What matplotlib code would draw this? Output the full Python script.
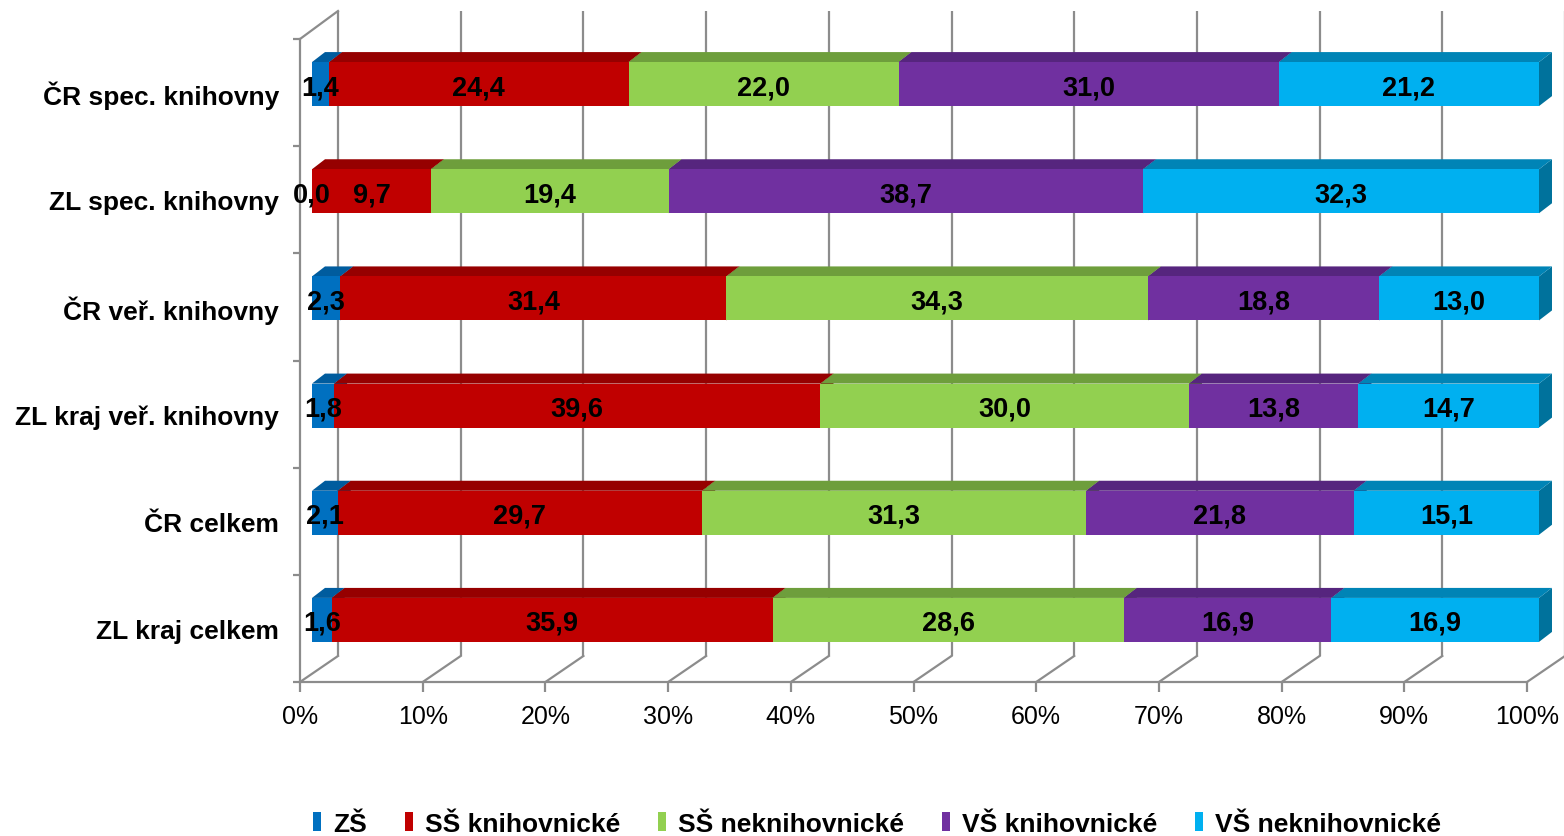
import matplotlib
matplotlib.use("Agg")
import matplotlib.pyplot as plt
from matplotlib.patches import Polygon, Rectangle
import numpy as np

plt.rcParams['font.family'] = ['Liberation Sans', 'DejaVu Sans']

# ---- data (bottom to top) ----
categories = ["ZL kraj celkem", "ČR celkem", "ZL kraj veř. knihovny",
              "ČR veř. knihovny", "ZL spec. knihovny", "ČR spec. knihovny"]
series_names = ["ZŠ", "SŠ knihovnické", "SŠ neknihovnické",
                "VŠ knihovnické", "VŠ neknihovnické"]
zs = [1.6, 2.1, 1.8, 2.3, 0.0, 1.4]
ss_kn = [35.9, 29.7, 39.6, 31.4, 9.7, 24.4]
ss_nekn = [28.6, 31.3, 30.0, 34.3, 19.4, 22.0]
vs_kn = [16.9, 21.8, 13.8, 18.8, 38.7, 31.0]
vs_nekn = [16.9, 15.1, 14.7, 13.0, 32.3, 21.2]
xtick_labels = ["0%", "10%", "20%", "30%", "40%", "50%", "60%", "70%", "80%", "90%", "100%"]

series = [zs, ss_kn, ss_nekn, vs_kn, vs_nekn]
front_cols = ["#0070C0", "#C00000", "#92D050", "#7030A0", "#00B0F0"]
top_cols = ["#005C9E", "#960000", "#6E9E3C", "#56257E", "#0084B6"]
side_cols = ["#004E86", "#7A0000", "#5A8430", "#45206A", "#00729C"]

W, H = 1564, 837
fig = plt.figure(figsize=(W / 100, H / 100), dpi=100)
ax = fig.add_axes([300 / W, (H - 683) / H, 1227 / W, 643 / H])
ax.set_xlim(0, 100)
ax.set_ylim(-0.5, 5.5)
for s in ax.spines.values():
    s.set_visible(False)

dxp = 100 / 1227.0   # data units per pixel (x)
dyp = 6 / 643.0      # data units per pixel (y)
grid_col = "#8C8C8C"
lw = 1.6

# depth of the wall/floor
DX = 38 * dxp
ybot, ytop = -0.5, 5.5
for p in range(0, 101, 10):
    xb = p + DX
    ax.plot([xb, xb], [ybot + 26 * dyp, ytop + 28 * dyp], color=grid_col, lw=lw,
            clip_on=False, zorder=1, solid_capstyle='butt')
    ax.plot([p, xb], [ybot, ybot + 26 * dyp], color=grid_col, lw=lw,
            clip_on=False, zorder=1)
# front floor edge and left wall front edge
ax.plot([0, 100], [ybot, ybot], color=grid_col, lw=lw, clip_on=False, zorder=1)
ax.plot([0, 0], [ybot, ytop], color=grid_col, lw=lw, clip_on=False, zorder=1)
ax.plot([0, DX], [ytop, ytop + 28 * dyp], color=grid_col, lw=lw, clip_on=False, zorder=1)

# bars
ox, oy = 12 * dxp, 8.5 * dyp
tx, ty = 13 * dxp, 10 * dyp
bh = 44 * dyp
y = np.arange(len(categories))
for i, c in enumerate(y):
    total = sum(s[i] for s in series)
    left = 0.0
    for k, s in enumerate(series):
        w = s[i] / total * 100
        x0, x1 = left + ox, left + w + ox
        yb, yt = c + oy - bh / 2, c + oy + bh / 2
        if w > 0:
            ax.add_patch(Polygon([(x1, yb), (x1 + tx, yb + ty), (x1 + tx, yt + ty), (x1, yt)],
                                 closed=True, fc=side_cols[k], ec='none', zorder=3, clip_on=False))
            ax.add_patch(Polygon([(x0, yt), (x0 + tx, yt + ty), (x1 + tx, yt + ty), (x1, yt)],
                                 closed=True, fc=top_cols[k], ec='none', zorder=3, clip_on=False))
            ax.add_patch(Rectangle((x0, yb), w, bh, fc=front_cols[k], ec='none',
                                   zorder=3, clip_on=False))
        ax.text(left + w / 2 + ox, c + oy - 3 * dyp, f"{s[i]:.1f}".replace('.', ','),
                ha='center', va='center', fontsize=19.5, fontweight='bold',
                color='black', zorder=5)
        left += w

# ticks
ax.set_xticks(np.arange(0, 101, 10))
ax.set_xticklabels(xtick_labels, fontsize=18)
ax.tick_params(axis='x', length=7, width=lw, color=grid_col, pad=9)
ax.set_yticks(y)
ax.set_yticklabels(categories, fontsize=19, fontweight='bold')
ax.tick_params(axis='y', which='major', length=0, pad=15)
ax.set_yticks(np.arange(-0.5, 6, 1), minor=True)
ax.tick_params(axis='y', which='minor', length=5, width=lw, color=grid_col)

# legend
handles = [Rectangle((0, 0), 1, 1, fc=col, ec='none') for col in front_cols]
fig.legend(handles, series_names, loc='center left', bbox_to_anchor=(313 / W, 1 - 825 / H),
           ncol=5, frameon=False, handlelength=0.3, handleheight=0.75, handletextpad=0.45,
           columnspacing=1.45, borderpad=0, borderaxespad=0,
           prop={'size': 19, 'weight': 'bold'})

fig.savefig("out.png", dpi=100)
